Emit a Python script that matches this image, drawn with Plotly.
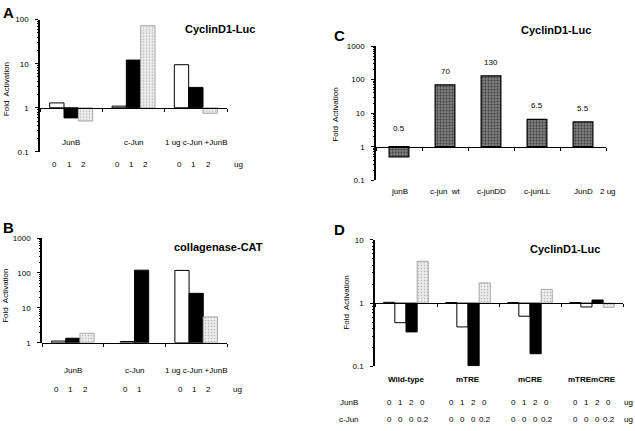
import plotly.graph_objects as go
import math

W, H = 635, 431

# ---------------- data ----------------
A_groups = ["JunB", "c-Jun", "1 ug c-Jun +JunB"]
A_doses = ["0", "1", "2"]
A_white = [1.29, 1.09, 9.5]
A_black = [0.59, 12.1, 2.9]
A_grey = [0.5, 73, 0.75]

B_groups = ["JunB", "c-Jun", "1 ug c-Jun +JunB"]
B_doses = ["0", "1", "2"]
B_white = [1.12, 1.09, 118]
B_black = [1.35, 120, 26]
B_grey = [1.87, None, 5.5]

C_groups = ["junB", "c-jun  wt", "c-junDD", "c-junLL", "JunD"]
C_values = [0.5, 70, 130, 6.5, 5.5]
C_labels = ["0.5", "70", "130", "6.5", "5.5"]

D_groups = ["Wild-type", "mTRE", "mCRE", "mTREmCRE"]
D_ctrl = [1.03, 1.02, 1.02, 1.02]
D_junb1 = [0.49, 0.42, 0.62, 0.87]
D_junb2 = [0.35, 0.102, 0.158, 1.12]
D_cjun = [4.6, 2.09, 1.65, 0.86]
D_junb_doses = ["0", "1", "2", "0"]
D_cjun_doses = ["0", "0", "0", "0.2"]

FONT = "Liberation Sans, Arial, sans-serif"


def px_x(p):
    return p / W


def px_y(p):
    return 1 - p / H


white_style = dict(color="white", line=dict(color="black", width=1))
black_style = dict(color="black", line=dict(color="black", width=1))
grey_style = dict(color="#e8e8e8", line=dict(color="#a8a8a8", width=1),
                  pattern=dict(shape=".", fgcolor="#b4b4b4", bgcolor="#ececec",
                               size=3, solidity=0.2, fillmode="replace"))
dark_style = dict(color="#6e6e6e", line=dict(color="black", width=1.2),
                  pattern=dict(shape=".", fgcolor="#3a3a3a", bgcolor="#808080",
                               size=3, solidity=0.35, fillmode="replace"))

fig = go.Figure()
annotations = []


def add_panel(idx, xdom_px, ydom_px, yrange, groups, series, width, tickvals, ticktext):
    xa = "x" if idx == 1 else f"x{idx}"
    ya = "y" if idx == 1 else f"y{idx}"
    n = len(groups)
    bar_pos = []
    for g in range(n):
        present = [s for s in range(len(series)) if series[s][0][g] is not None]
        k = len(present)
        pos = {}
        for j, s in enumerate(present):
            pos[s] = g + 0.5 + (j - (k - 1) / 2) * width
        bar_pos.append(pos)
    for s, (vals, style) in enumerate(series):
        xs, ys = [], []
        for g in range(n):
            if vals[g] is None:
                continue
            xs.append(bar_pos[g][s])
            ys.append(vals[g] - 1)
        fig.add_trace(go.Bar(x=xs, y=ys, base=1, width=width, marker=style,
                             xaxis=xa, yaxis=ya, showlegend=False, hoverinfo="skip"))
    y0 = px_y(ydom_px[1])
    y1 = px_y(ydom_px[0])
    frac = (0 - yrange[0]) / (yrange[1] - yrange[0])
    pos1 = y0 + frac * (y1 - y0)
    minor_vals = []
    for d in range(int(yrange[0]), int(yrange[1])):
        for m in range(2, 10):
            minor_vals.append(m * 10 ** d)
    xkey = "xaxis" if idx == 1 else f"xaxis{idx}"
    ykey = "yaxis" if idx == 1 else f"yaxis{idx}"
    fig.update_layout(**{
        xkey: dict(domain=[px_x(xdom_px[0]), px_x(xdom_px[1])], range=[0, n],
                   anchor="free", position=pos1, showline=True, linecolor="black",
                   linewidth=1.2, showgrid=False, zeroline=False,
                   tickvals=list(range(0, n + 1)), ticks="outside", ticklen=3,
                   tickcolor="black", showticklabels=False, fixedrange=True),
        ykey: dict(domain=[y0, y1], type="log", range=list(yrange), anchor=xa,
                   showline=True, linecolor="black", linewidth=1.5, showgrid=False,
                   zeroline=False, tickvals=tickvals, ticktext=ticktext,
                   ticks="outside", ticklen=3, tickcolor="black", tickwidth=1.2,
                   ticklabelstandoff=5,
                   tickfont=dict(size=8, family=FONT, color="black"),
                   minor=dict(tickvals=minor_vals, ticks="outside", ticklen=1.5,
                              tickcolor="black"),
                   fixedrange=True),
    })
    return xa, ya, bar_pos


def ann(text, x, y, xref="paper", yref="paper", size=8, bold=False, angle=0,
        xanchor="center", yanchor="middle", yshift=0):
    annotations.append(dict(
        text=f"<b>{text}</b>" if bold else text, x=x, y=y, xref=xref, yref=yref,
        showarrow=False, font=dict(size=size, family=FONT, color="black"),
        textangle=angle, xanchor=xanchor, yanchor=yanchor, yshift=yshift))


# ---------------- Panel A ----------------
xa, ya, posA = add_panel(1, (40, 227), (16, 151), (-1, 2), A_groups,
                         [(A_white, white_style), (A_black, black_style), (A_grey, grey_style)],
                         0.23, [0.1, 1, 10, 100], ["0.1", "1", "10", "100"])
for g, name in enumerate(A_groups):
    ann(name, g + 0.5, px_y(141), xref=xa)
    for s, xpos in posA[g].items():
        ann(A_doses[s], xpos - 0.03, px_y(164), xref=xa)
ann("ug", px_x(238), px_y(164))
ann("CyclinD1-Luc", px_x(220), px_y(26), size=11, bold=True)
ann("A", px_x(8), px_y(9), size=15, bold=True)
ann("Fold  Activation", px_x(6), px_y(87), angle=-90)

# ---------------- Panel B ----------------
xa, ya, posB = add_panel(2, (42, 227), (239, 346), (0, 3), B_groups,
                         [(B_white, white_style), (B_black, black_style), (B_grey, grey_style)],
                         0.23, [1, 10, 100, 1000], ["1", "10", "100", "1000"])
for g, name in enumerate(B_groups):
    ann(name, g + 0.5, px_y(374), xref=xa)
    for s, xpos in posB[g].items():
        ann(B_doses[s], xpos - 0.03, px_y(394), xref=xa)
ann("ug", px_x(237), px_y(394))
ann("collagenase-CAT", px_x(218), px_y(248), size=11, bold=True)
ann("B", px_x(8), px_y(228), size=15, bold=True)
ann("Fold  Activation", px_x(6), px_y(298), angle=-90)

# ---------------- Panel C ----------------
xa, ya, posC = add_panel(3, (376, 606), (43, 180), (-1, 3), C_groups,
                         [(C_values, dark_style)],
                         0.43, [0.1, 1, 10, 100, 1000], ["0.1", "1", "10", "100", "1000"])
for g, name in enumerate(C_groups):
    ann(name, g + 0.5, px_y(191), xref=xa)
    top = max(C_values[g], 1)
    ann(C_labels[g], g + 0.5, math.log10(top), xref=xa, yref=ya, yanchor="bottom",
        yshift=7 if C_values[g] >= 1 else 12)
ann("2 ug", px_x(608), px_y(191))
ann("CyclinD1-Luc", px_x(556), px_y(27), size=11, bold=True)
ann("C", px_x(339), px_y(32), size=15, bold=True)
ann("Fold  Activation", px_x(336), px_y(113), angle=-90)

# ---------------- Panel D ----------------
xa, ya, posD = add_panel(4, (375, 623), (241, 370), (-1, 1), D_groups,
                         [(D_ctrl, white_style), (D_junb1, white_style),
                          (D_junb2, black_style), (D_cjun, grey_style)],
                         0.18, [0.1, 1, 10], ["0.1", "1", "10"])
for g, name in enumerate(D_groups):
    ann(name, g + 0.5, px_y(383), xref=xa, bold=True)
    for s, xpos in posD[g].items():
        ann(D_junb_doses[s], xpos, px_y(407), xref=xa)
        ann(D_cjun_doses[s], xpos, px_y(424), xref=xa)
ann("JunB", px_x(349), px_y(407))
ann("c-Jun", px_x(349), px_y(424))
ann("ug", px_x(628), px_y(407))
ann("ug", px_x(628), px_y(424))
ann("CyclinD1-Luc", px_x(565), px_y(250), size=11, bold=True)
ann("D", px_x(339), px_y(230), size=15, bold=True)
ann("Fold  Activation", px_x(347), px_y(305), angle=-90)

fig.update_layout(
    width=W, height=H, margin=dict(l=0, r=0, t=0, b=0),
    paper_bgcolor="white", plot_bgcolor="rgba(0,0,0,0)",
    barmode="overlay", showlegend=False, annotations=annotations,
    font=dict(family=FONT, size=8, color="black"),
)

# remove the browser's default page margin so the figure fills the window exactly
fig.write_html("out.html", config={"displayModeBar": False},
               post_script="document.body.style.margin='0';document.body.style.overflow='hidden';")
